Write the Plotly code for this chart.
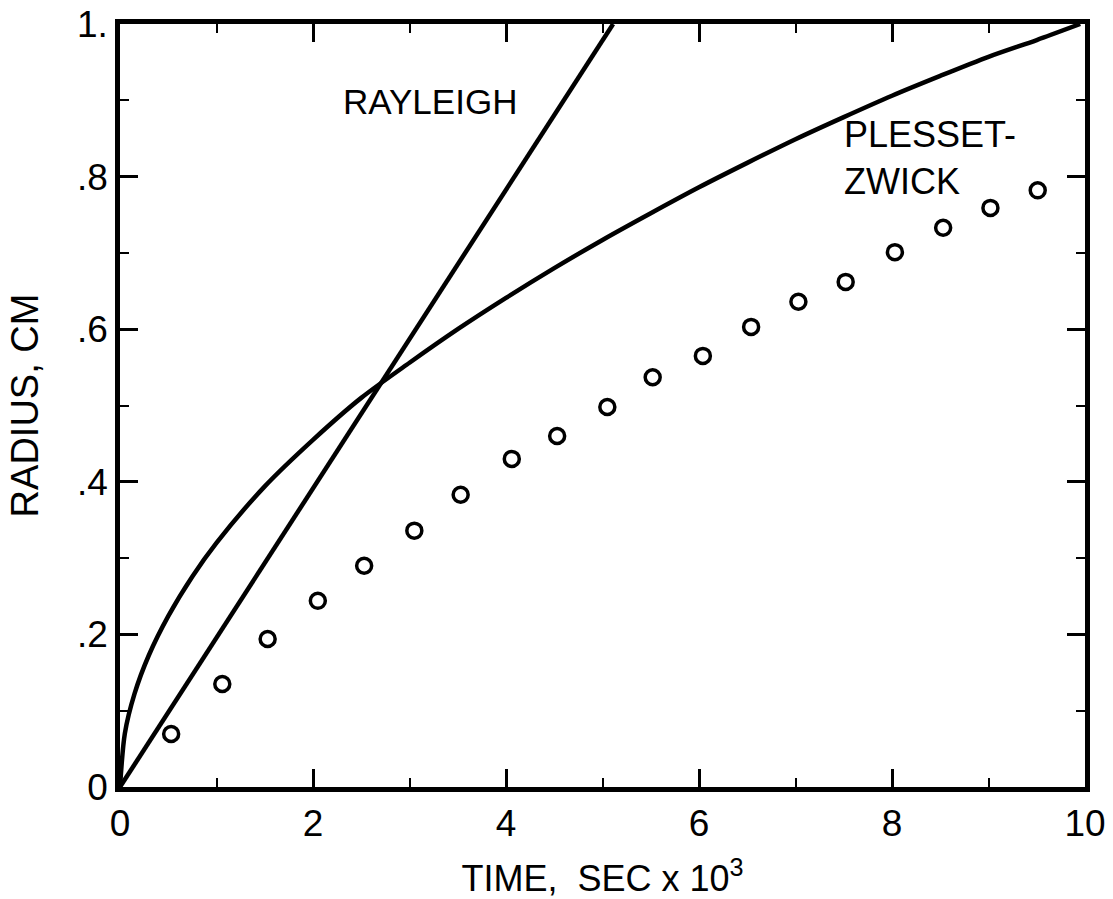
import plotly.graph_objects as go

# Plesset-Zwick theoretical curve
pz_time = [0, 0.05, 0.15, 0.3, 0.5, 0.75, 1.0, 1.5, 2.0, 2.5, 3.0, 3.5, 4.0,
           4.5, 5.0, 5.5, 6.0, 6.5, 7.0, 7.5, 8.0, 8.5, 9.0, 9.5, 9.95]
pz_radius = [0, 0.07, 0.122, 0.173, 0.224, 0.276, 0.32, 0.394, 0.455, 0.51, 0.556, 0.60, 0.641,
             0.68, 0.717, 0.752, 0.786, 0.818, 0.849, 0.878, 0.906, 0.932, 0.957, 0.979, 1.0]

# Rayleigh straight line
ray_time = [0, 5.11]
ray_radius = [0, 1.0]

# Measured points (open circles)
obs_time = [0.53, 1.06, 1.53, 2.05, 2.53, 3.05, 3.53, 4.06, 4.53, 5.05,
            5.52, 6.04, 6.54, 7.03, 7.52, 8.03, 8.53, 9.02, 9.51]
obs_radius = [0.0695, 0.135, 0.194, 0.244, 0.29, 0.336, 0.383, 0.43, 0.46, 0.498,
              0.537, 0.565, 0.603, 0.636, 0.662, 0.701, 0.733, 0.759, 0.782]

x_tickvals = [0, 2, 4, 6, 8, 10]
x_ticktext = ["0", "2", "4", "6", "8", "10"]
y_tickvals = [0, 0.2, 0.4, 0.6, 0.8, 1.0]
y_ticktext = ["0", ".2", ".4", ".6", ".8", "1."]

FONT = "Liberation Sans, Arial, sans-serif"

fig = go.Figure()
fig.add_trace(go.Scatter(x=pz_time, y=pz_radius, mode="lines",
                         line=dict(color="black", width=4.5, shape="spline", smoothing=0.8),
                         showlegend=False))
fig.add_trace(go.Scatter(x=ray_time, y=ray_radius, mode="lines",
                         line=dict(color="black", width=4.5),
                         showlegend=False))
fig.add_trace(go.Scatter(x=obs_time, y=obs_radius, mode="markers",
                         marker=dict(symbol="circle-open", size=15,
                                     color="black", line=dict(width=3.5, color="black")),
                         showlegend=False))

fig.add_annotation(x=3.21, y=0.898, text="RAYLEIGH", showarrow=False,
                   font=dict(family=FONT, size=35, color="black"))
fig.add_annotation(x=7.48, y=0.825, text="PLESSET-<br>ZWICK", showarrow=False,
                   xanchor="left", align="left",
                   font=dict(family=FONT, size=36, color="black"))

axis_common = dict(showline=True, linewidth=4.5, linecolor="black", mirror="ticks",
                   ticks="inside", ticklen=18, tickwidth=2.5, tickcolor="black",
                   showgrid=False, zeroline=False,
                   tickfont=dict(family=FONT, size=37, color="black"))

fig.update_xaxes(range=[0, 10], tickvals=x_tickvals, ticktext=x_ticktext,
                 minor=dict(dtick=1, ticks="inside", ticklen=9, tickwidth=2,
                            tickcolor="black", showgrid=False),
                 title=dict(text="TIME,  SEC x 10<sup>3</sup>", standoff=26,
                            font=dict(family=FONT, size=36, color="black")),
                 **axis_common)
fig.update_yaxes(range=[0, 1], tickvals=y_tickvals, ticktext=y_ticktext,
                 minor=dict(dtick=0.1, ticks="inside", ticklen=9, tickwidth=2,
                            tickcolor="black", showgrid=False),
                 title=dict(text="RADIUS, CM", standoff=28,
                            font=dict(family=FONT, size=38, color="black")),
                 **axis_common)

fig.update_layout(width=1113, height=899,
                  margin=dict(l=120, r=28, t=24, b=112, autoexpand=False),
                  paper_bgcolor="white", plot_bgcolor="white")

fig.write_html("out.html")
